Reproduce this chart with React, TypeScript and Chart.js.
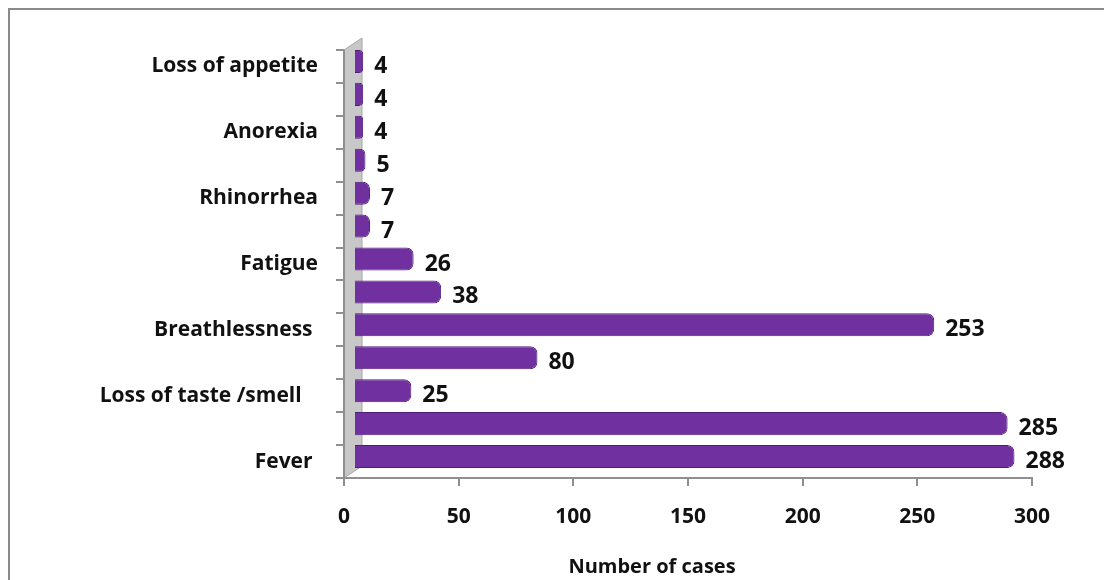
import React, { useEffect, useRef } from "react";
import { Chart, registerables } from "chart.js";

Chart.register(...registerables);

// Categories listed bottom-to-top (y axis is reversed)
const categories = [
  "Fever ",
  "",
  "Loss of taste /smell   ",
  "",
  "Breathlessness ",
  "",
  "Fatigue",
  "",
  "Rhinorrhea",
  "",
  "Anorexia",
  "",
  "Loss of appetite",
];
const cases = [288, 285, 25, 80, 253, 38, 26, 7, 7, 5, 4, 4, 4];
const xMin = 0;
const xMax = 300;
const xStep = 50;
const xTitle = "Number of cases";

const FONT = "'Open Sans', Lato, 'DejaVu Sans', sans-serif";
const AXIS_GRAY = "#8f8f8f";
const DEPTH_X = 18;
const DEPTH_Y = -12;
const BAR_SHIFT_X = 10;
const BAR_SHIFT_Y = -5;
const TITLE_SHIFT_X = -36;

const framePlugin = {
  id: "frame",
  beforeDraw(chart: any) {
    const ctx = chart.ctx;
    ctx.save();
    ctx.fillStyle = "#ffffff";
    ctx.fillRect(0, 0, chart.width, chart.height);
    ctx.strokeStyle = "#8a8a8a";
    ctx.lineWidth = 2;
    ctx.beginPath();
    ctx.moveTo(9, chart.height);
    ctx.lineTo(9, 9);
    ctx.lineTo(chart.width, 9);
    ctx.stroke();
    ctx.restore();
  },
  afterDraw(chart: any) {
    const { ctx, chartArea } = chart;
    ctx.save();
    ctx.font = `bold 20px ${FONT}`;
    ctx.fillStyle = "#111111";
    ctx.textAlign = "center";
    ctx.textBaseline = "middle";
    ctx.fillText(xTitle, (chartArea.left + chartArea.right) / 2 + TITLE_SHIFT_X, chart.height - 13);
    ctx.restore();
  },
};

const wallPlugin = {
  id: "wall3d",
  beforeDatasetsDraw(chart: any) {
    const { ctx, chartArea } = chart;
    const { left, top, bottom } = chartArea;
    ctx.save();
    ctx.fillStyle = "#c8c8c8";
    ctx.strokeStyle = "#a6a6a6";
    ctx.lineWidth = 1;
    ctx.beginPath();
    ctx.moveTo(left, bottom);
    ctx.lineTo(left, top);
    ctx.lineTo(left + DEPTH_X, top + DEPTH_Y);
    ctx.lineTo(left + DEPTH_X, bottom + DEPTH_Y);
    ctx.closePath();
    ctx.fill();
    ctx.stroke();
    ctx.strokeStyle = AXIS_GRAY;
    ctx.lineWidth = 2;
    ctx.beginPath();
    ctx.moveTo(left, top);
    ctx.lineTo(left, bottom);
    ctx.stroke();
    ctx.restore();
    ctx.save();
    ctx.translate(BAR_SHIFT_X, BAR_SHIFT_Y);
  },
  afterDatasetsDraw(chart: any) {
    const ctx = chart.ctx;
    ctx.restore();
    const meta = chart.getDatasetMeta(0);
    ctx.save();
    ctx.font = `bold 23px ${FONT}`;
    ctx.fillStyle = "#111111";
    ctx.textAlign = "left";
    ctx.textBaseline = "middle";
    meta.data.forEach((bar: any, i: number) => {
      const { x, y } = bar.getProps(["x", "y"], true);
      ctx.fillText(String(cases[i]), x + 21, y);
    });
    ctx.restore();
  },
};

export default function App() {
  const canvasRef = useRef<HTMLCanvasElement | null>(null);

  useEffect(() => {
    document.body.style.margin = "0";
    const canvas = canvasRef.current;
    if (!canvas) return;
    const chart = new Chart(canvas, {
      type: "bar",
      data: {
        labels: categories,
        datasets: [
          {
            data: cases,
            backgroundColor: "#7030a0",
            borderColor: "#4f1d78",
            borderWidth: 1,
            borderRadius: 7,
            borderSkipped: "start",
            barPercentage: 0.7,
            categoryPercentage: 1,
          },
        ],
      },
      options: {
        indexAxis: "y",
        responsive: false,
        animation: false,
        layout: { padding: { left: 0, right: 72, top: 50, bottom: 0 } },
        plugins: {
          legend: { display: false },
          tooltip: { enabled: false },
          title: { display: false },
        },
        scales: {
          y: {
            reverse: true,
            afterFit(scale: any) {
              scale.width = 344;
            },
            grid: {
              drawOnChartArea: false,
              drawTicks: true,
              tickLength: 8,
              color: AXIS_GRAY,
              lineWidth: 2,
              offset: true,
            },
            border: { display: true, color: AXIS_GRAY, width: 2 },
            ticks: {
              autoSkip: false,
              padding: 18,
              color: "#111111",
              font: { family: FONT, size: 21, weight: "bold" },
            },
          },
          x: {
            min: xMin,
            max: xMax,
            afterFit(scale: any) {
              scale.height = 102;
            },
            grid: {
              drawOnChartArea: false,
              drawTicks: true,
              tickLength: 8,
              color: AXIS_GRAY,
              lineWidth: 2,
            },
            border: { display: true, color: AXIS_GRAY, width: 2 },
            ticks: {
              stepSize: xStep,
              padding: 18,
              color: "#111111",
              font: { family: FONT, size: 21, weight: "bold" },
            },
            title: { display: false },
          },
        },
      },
      plugins: [framePlugin, wallPlugin],
    });
    return () => chart.destroy();
  }, []);

  return (
    <div style={{ width: 1104, height: 580 }}>
      <canvas ref={canvasRef} width={1104} height={580} />
    </div>
  );
}
